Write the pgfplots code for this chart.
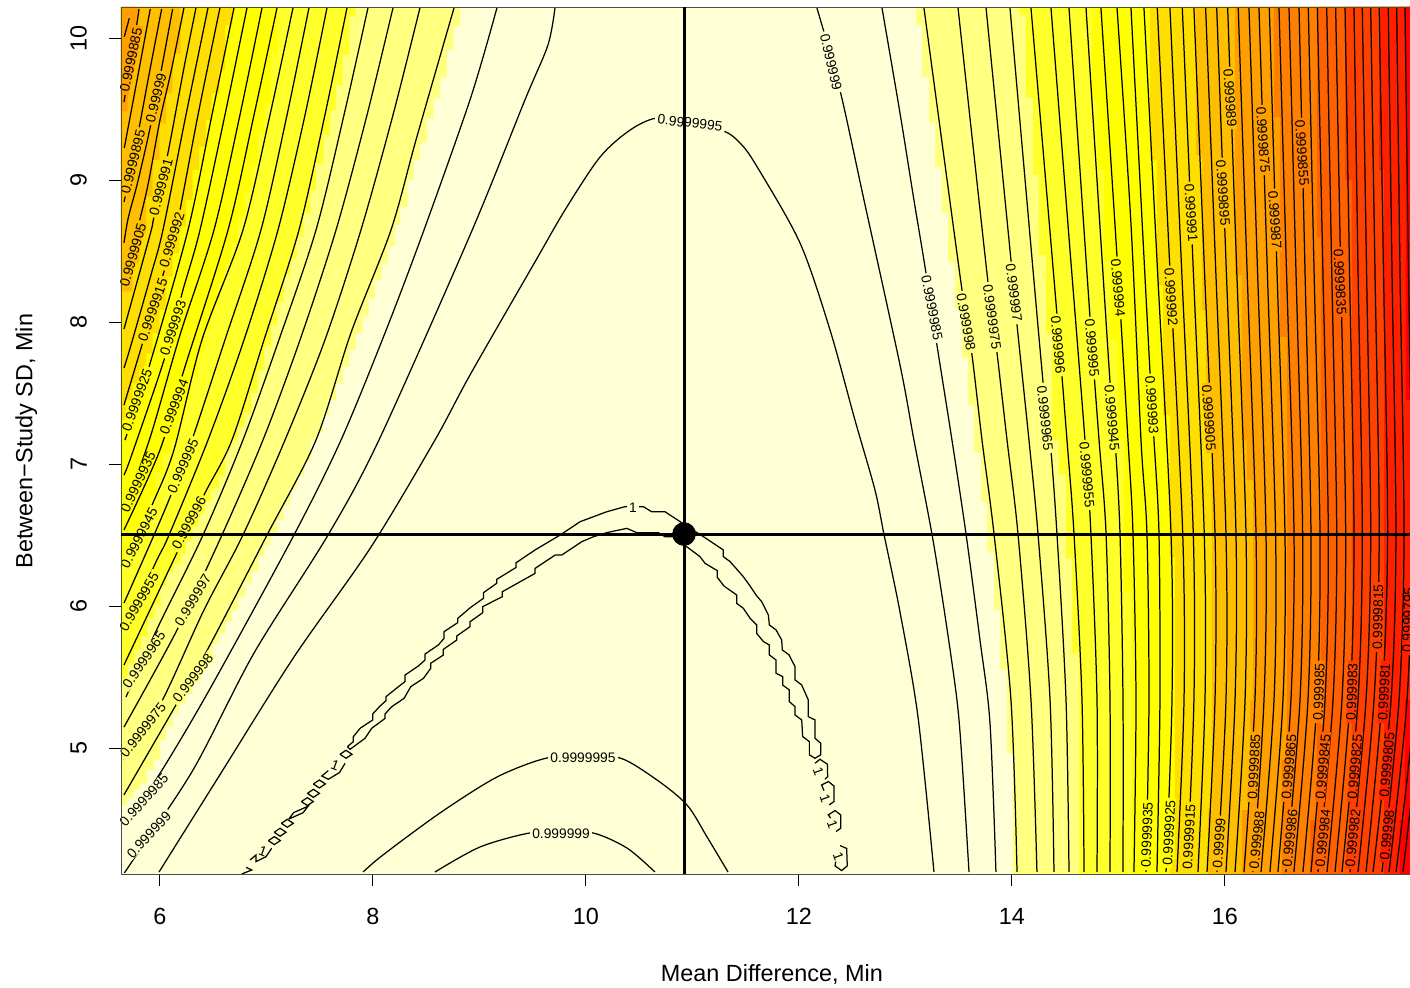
\documentclass[border=0pt]{standalone}
\usepackage{pgfplots}
\pgfplotsset{compat=1.18}
\usepackage{fontspec}
\setmainfont{Liberation Sans}
\definecolor{cA}{HTML}{FFFFD5}
\definecolor{cB}{HTML}{FFFF80}
\definecolor{cC}{HTML}{FFFF2A}
\definecolor{cD}{HTML}{FFFF00}
\definecolor{cE}{HTML}{FFDF00}
\definecolor{cF}{HTML}{FFBF00}
\definecolor{cG}{HTML}{FF9F00}
\definecolor{cH}{HTML}{FF8000}
\definecolor{cI}{HTML}{FF6000}
\definecolor{cJ}{HTML}{FF4000}
\definecolor{cK}{HTML}{FF2000}
\definecolor{cL}{HTML}{FF0000}
\pgfplotsset{
  cl/.style={black,line width=.62pt,smooth,tension=.5},
  st/.style={black,line width=.62pt,line join=miter},
  bd/.style={draw=none,const plot mark right,fill=#1},
  base/.style={scale only axis,width=644.5pt,height=433.5pt,
    xmin=5.634,xmax=17.738,ymin=4.113,ymax=10.219},
}
\newcommand\lab[5]{\node[fill=#4,rotate=#3,inner xsep=1.3pt,inner ysep=0pt,text=black,font=\fontsize{6.9}{7}\selectfont] at (axis cs:#1,#2) {#5};}
\newcommand\one[3]{\node[rotate=#3,inner sep=0pt,text=black,font=\fontsize{6.9}{7}\selectfont] at (axis cs:#1,#2) {1};}
\begin{document}
\begin{tikzpicture}
\useasboundingbox (-60.5pt,-57pt) rectangle (644.5pt,437pt);
\begin{axis}[base,
  axis on top,
  axis background/.style={fill=cA},
  axis line style={black!70,line width=.4pt},
  tick style={black,line width=.5pt},
  tick align=outside, major tick length=6pt,
  xtick pos=bottom, ytick pos=left,
  xtick={6,8,10,12,14,16}, ytick={5,6,7,8,9,10},
  /pgf/number format/assume math mode=true,
  tick label style={font=\fontsize{11.7}{14}\selectfont},
  yticklabel style={rotate=90,anchor=south,yshift=7.5pt},
  xticklabel style={yshift=-7.5pt},
  xlabel={Mean Difference, Min},
  ylabel={Between−Study SD, Min},
  label style={font=\fontsize{11.7}{14}\selectfont},
  xlabel style={at={(axis description cs:0.505,-0.116)},anchor=center},
  ylabel style={at={(axis description cs:-0.0735,0.4994)},anchor=center},
]
% right side colour bands
\addplot[bd=cB] coordinates {(13.099,10.219)(13.156,10.092)(13.221,9.726)(13.278,9.402)(13.343,9.092)(13.400,8.768)(13.466,8.416)(13.531,8.099)(13.588,7.747)(13.644,7.416)(13.710,7.078)(13.766,6.733)(13.832,6.381)(13.888,5.972)(13.954,5.550)(14.010,4.965)(17.738,4.113)(17.738,10.219)} -- cycle;
\addplot[bd=cC] coordinates {(14.076,10.219)(14.132,10.162)(14.198,9.578)(14.254,9.036)(14.320,8.472)(14.376,7.923)(14.442,7.169)(14.508,6.923)(14.564,6.338)(14.630,5.669)(17.738,4.113)(17.738,10.219)} -- cycle;
\addplot[bd=cD] coordinates {(14.752,10.219)(14.808,9.564)(14.865,9.071)(14.930,8.423)(14.996,7.874)(15.052,7.169)(15.127,6.099)(17.738,4.113)(17.738,10.219)} -- cycle;
\addplot[bd=cE] coordinates {(15.297,10.219)(15.362,9.141)(15.419,8.261)(15.484,7.345)(15.531,6.345)(15.484,4.211)(17.738,4.113)(17.738,10.219)} -- cycle;
\addplot[bd=cF] coordinates {(15.728,10.219)(15.785,9.176)(15.822,8.085)(15.878,7.099)(15.841,4.564)(17.738,4.113)(17.738,10.219)} -- cycle;
\addplot[bd=cG] coordinates {(16.095,10.219)(16.160,8.331)(16.207,7.169)(16.264,6.888)(16.236,5.338)(16.160,4.564)(17.738,4.113)(17.738,10.219)} -- cycle;
\addplot[bd=cH] coordinates {(16.461,10.219)(16.517,9.444)(16.583,7.895)(16.536,4.916)(17.738,4.113)(17.738,10.219)} -- cycle;
\addplot[bd=cI] coordinates {(16.865,10.219)(16.902,8.599)(16.865,5.338)(16.799,4.493)(17.738,4.113)(17.738,10.219)} -- cycle;
\addplot[bd=cJ] coordinates {(17.128,10.219)(17.193,9.000)(17.165,4.916)(17.738,4.113)(17.738,10.219)} -- cycle;
\addplot[bd=cK] coordinates {(17.447,10.219)(17.494,9.071)(17.738,4.113)(17.738,10.219)} -- cycle;
\addplot[bd=cL] coordinates {(17.700,10.219)(17.738,7.451)(17.691,5.338)(17.644,4.493)(17.738,4.113)(17.738,10.219)} -- cycle;
% left side colour bands
\addplot[bd=cB] coordinates {(8.820,10.219)(8.758,10.080)(8.695,9.916)(8.633,9.723)(8.570,9.576)(8.507,9.435)(8.445,9.263)(8.382,9.141)(8.326,9.001)(8.257,8.813)(8.207,8.684)(8.138,8.536)(8.082,8.414)(8.019,8.297)(7.960,8.167)(7.903,8.038)(7.841,7.921)(7.778,7.804)(7.715,7.686)(7.653,7.569)(7.590,7.452)(7.528,7.346)(7.474,7.217)(7.418,7.170)(7.356,7.016)(7.287,6.923)(7.224,6.829)(7.161,6.711)(7.099,6.606)(7.036,6.512)(6.980,6.430)(6.924,6.348)(6.861,6.242)(6.798,6.160)(6.736,6.066)(6.676,5.972)(6.614,5.890)(6.557,5.808)(6.495,5.737)(6.432,5.655)(6.370,5.550)(6.307,5.456)(6.244,5.385)(6.182,5.315)(6.119,5.244)(6.057,5.151)(6.003,5.057)(5.941,4.916)(5.878,4.846)(5.816,4.752)(5.753,4.705)(5.690,4.646)(5.634,4.599)(5.634,10.219)} -- cycle;
\addplot[bd=cC] coordinates {(7.841,10.219)(7.778,10.151)(7.715,9.881)(7.653,9.670)(7.600,9.493)(7.537,9.317)(7.465,9.118)(7.409,8.930)(7.346,8.766)(7.284,8.602)(7.224,8.449)(7.161,8.332)(7.096,8.144)(7.043,7.980)(6.980,7.827)(6.917,7.663)(6.855,7.499)(6.792,7.358)(6.730,7.264)(6.667,7.170)(6.611,7.099)(6.551,6.911)(6.479,6.829)(6.417,6.735)(6.360,6.653)(6.307,6.559)(6.244,6.465)(6.191,6.371)(6.129,6.301)(6.063,6.242)(6.003,6.136)(5.947,6.007)(5.884,5.913)(5.822,5.784)(5.759,5.690)(5.697,5.597)(5.634,5.486)(5.634,10.219)} -- cycle;
\addplot[bd=cD] coordinates {(7.105,10.219)(7.043,9.893)(6.980,9.540)(6.917,9.329)(6.855,9.094)(6.792,8.930)(6.730,8.742)(6.667,8.566)(6.604,8.414)(6.542,8.273)(6.479,8.109)(6.417,7.945)(6.354,7.780)(6.291,7.616)(6.229,7.452)(6.166,7.311)(6.104,7.170)(6.025,7.075)(5.963,6.934)(5.900,6.770)(5.838,6.629)(5.775,6.512)(5.712,6.395)(5.650,6.277)(5.634,6.150)(5.634,10.219)} -- cycle;
\addplot[bd=cE] coordinates {(6.683,10.219)(6.611,10.092)(6.557,9.775)(6.485,9.611)(6.432,9.423)(6.370,9.235)(6.307,9.071)(6.244,8.860)(6.182,8.672)(6.119,8.484)(6.057,8.320)(5.994,8.085)(5.931,7.921)(5.869,7.780)(5.806,7.663)(5.744,7.569)(5.681,7.452)(5.634,7.311)(5.634,10.219)} -- cycle;
\addplot[bd=cF] coordinates {(6.191,10.219)(6.119,9.893)(6.057,9.611)(5.994,9.400)(5.931,9.141)(5.869,8.883)(5.806,8.625)(5.744,8.414)(5.697,8.214)(5.634,8.214)(5.634,10.219)} -- cycle;
\addplot[bd=cG] coordinates {(5.794,10.219)(5.697,9.881)(5.634,9.486)(5.634,10.219)} -- cycle;
% contours, left side
\addplot[cl] coordinates {(5.803,10.205)(5.784,10.106)(5.662,9.550)};
\addplot[cl] coordinates {(5.712,10.139)(5.665,10.010)};
\addplot[cl] coordinates {(5.909,10.205)(5.806,9.789)(5.665,9.226)};
\addplot[cl] coordinates {(6.016,10.205)(5.909,9.789)(5.806,9.374)(5.744,9.127)(5.662,8.845)};
\addplot[cl] coordinates {(6.119,10.205)(6.016,9.789)(5.909,9.374)(5.791,8.986)(5.702,8.733)(5.662,8.557)};
\addplot[cl] coordinates {(6.225,10.212)(6.103,9.761)(6.000,9.423)(5.887,8.965)(5.775,8.613)(5.662,8.275)};
\addplot[cl] coordinates {(6.338,10.212)(6.225,9.789)(6.075,9.191)(5.944,8.740)(5.906,8.613)(5.662,7.951)};
\addplot[cl] coordinates {(6.451,10.212)(6.244,9.458)(6.028,8.648)(5.915,8.331)(5.728,7.838)(5.662,7.676)};
\addplot[cl] coordinates {(6.563,10.212)(6.357,9.458)(6.150,8.648)(6.028,8.331)(5.662,7.416)};
\addplot[cl] coordinates {(6.695,10.212)(6.488,9.458)(6.263,8.648)(5.897,7.684)(5.671,7.169)};
\addplot[cl] coordinates {(6.817,10.212)(6.610,9.458)(6.376,8.648)(6.216,8.226)(6.038,7.733)(5.728,7.050)(5.662,6.923)};
\addplot[cl] coordinates {(6.958,10.212)(6.751,9.458)(6.507,8.648)(6.188,7.909)(5.906,7.183)(5.662,6.676)};
\addplot[cl] coordinates {(7.099,10.212)(6.883,9.458)(6.639,8.648)(6.225,7.662)(6.000,7.099)(5.662,6.536)};
\addplot[cl] coordinates {(7.249,10.212)(7.033,9.458)(6.779,8.648)(6.394,7.874)(6.131,7.099)(5.934,6.726)(5.662,6.275)};
\addplot[cl] coordinates {(7.399,10.212)(7.193,9.458)(6.948,8.648)(6.610,7.874)(6.300,7.169)(6.103,6.782)(5.944,6.500)(5.662,6.021)};
\addplot[cl] coordinates {(7.568,10.212)(7.362,9.458)(7.108,8.648)(6.789,7.874)(6.451,7.169)(6.085,6.500)(5.962,6.310)(5.662,5.817)};
\addplot[cl] coordinates {(7.756,10.212)(7.549,9.458)(7.305,8.648)(6.977,7.874)(6.676,7.169)(6.413,6.782)(6.150,6.360)(5.662,5.585)};
\addplot[cl] coordinates {(7.953,10.212)(7.728,9.458)(7.465,8.648)(7.117,7.874)(6.779,7.169)(6.404,6.500)(5.981,5.852)(5.681,5.360)};
\addplot[cl] coordinates {(8.188,10.212)(7.944,9.458)(7.653,8.648)(7.315,7.874)(6.967,7.169)(6.582,6.500)(6.160,5.831)(5.662,5.148)};
\addplot[cl] coordinates {(8.441,10.212)(8.188,9.458)(7.887,8.648)(7.549,7.874)(7.174,7.169)(6.779,6.500)(6.413,5.972)(6.009,5.317)(5.662,4.916)};
\addplot[cl] coordinates {(8.761,10.212)(8.404,9.282)(8.169,8.648)(7.793,7.923)(7.465,7.169)(7.005,6.500)(6.460,5.712)(6.150,5.303)(5.662,4.670)};
\addplot[cl] coordinates {(9.164,10.212)(8.920,9.585)(8.479,8.648)(8.113,7.923)(7.700,7.169)(7.258,6.500)(6.479,5.430)(6.038,4.867)(5.662,4.437)};
\addplot[cl] coordinates {(9.709,10.212)(9.643,9.951)(9.427,9.564)(8.920,8.627)(8.056,7.169)(7.578,6.500)(6.883,5.669)(6.310,4.845)(5.728,4.190)(5.671,4.127)};
% 0.9999995 upper arc
\addplot[cl] coordinates {(5.991,4.127)(6.573,4.824)(7.258,5.641)(7.981,6.415)(8.582,7.169)(8.911,7.627)(9.521,8.423)(9.803,8.789)(10.132,9.162)(10.414,9.352)(10.667,9.437)(10.977,9.402)(11.296,9.345)(11.447,9.261)(11.597,9.106)(12.010,8.557)(12.292,7.944)(12.526,7.310)(12.714,6.817)(12.798,6.507)(12.949,5.958)(13.118,5.219)(13.268,4.127)};
% contours, right side
\addplot[cl] coordinates {(12.169,10.212)(12.385,9.634)(12.611,8.859)(12.949,7.698)(13.080,7.169)(13.249,6.507)(13.371,5.937)(13.484,5.338)(13.531,4.916)(13.597,4.127)};
\addplot[cl] coordinates {(12.780,10.212)(12.949,9.472)(13.080,8.859)(13.184,8.388)(13.296,7.838)(13.437,7.169)(13.569,6.507)(13.700,5.761)(13.794,5.176)(13.850,4.127)};
\addplot[cl] coordinates {(13.174,10.212)(13.531,8.226)(13.625,7.768)(13.719,7.169)(13.832,6.507)(13.991,5.338)(14.048,4.127)};
\addplot[cl] coordinates {(13.494,10.212)(13.775,8.282)(13.860,7.782)(13.954,7.169)(14.057,6.507)(14.179,5.338)(14.235,4.127)};
\addplot[cl] coordinates {(13.757,10.212)(13.991,8.437)(14.048,7.979)(14.160,7.169)(14.245,6.507)(14.358,5.338)(14.395,4.127)};
\addplot[cl] coordinates {(13.982,10.212)(14.292,7.578)(14.358,7.169)(14.423,6.507)(14.508,5.338)(14.536,4.127)};
\addplot[cl] coordinates {(14.179,10.212)(14.414,8.134)(14.517,7.169)(14.583,6.507)(14.658,5.338)(14.677,4.127)};
\addplot[cl] coordinates {(14.367,10.212)(14.526,8.690)(14.686,7.169)(14.742,6.507)(14.799,5.338)(14.799,4.127)};
\addplot[cl] coordinates {(14.536,10.212)(14.733,8.036)(14.818,7.169)(14.884,6.507)(14.921,5.338)(14.921,4.127)};
\addplot[cl] coordinates {(14.696,10.212)(14.921,7.578)(14.968,7.169)(15.015,6.507)(15.043,5.338)(15.043,4.127)};
\addplot[cl] coordinates {(14.836,10.212)(14.987,8.458)(15.090,7.169)(15.137,6.507)(15.165,5.338)(15.146,4.127)};
\addplot[cl] coordinates {(14.987,10.212)(15.118,8.690)(15.212,7.169)(15.268,6.507)(15.287,5.338)(15.259,4.127)};
\addplot[cl] coordinates {(15.118,10.212)(15.297,7.641)(15.334,7.169)(15.381,6.507)(15.390,5.338)(15.362,4.127)};
\addplot[cl] coordinates {(15.240,10.212)(15.367,8.366)(15.494,6.507)(15.503,5.338)(15.447,4.127)};
\addplot[cl] coordinates {(15.365,10.212)(15.484,8.366)(15.604,6.507)(15.616,5.338)(15.550,4.127)};
\addplot[cl] coordinates {(15.484,10.212)(15.594,8.366)(15.703,6.507)(15.709,5.338)(15.644,4.127)};
\addplot[cl] coordinates {(15.600,10.212)(15.703,8.366)(15.806,6.507)(15.813,5.338)(15.747,4.127)};
\addplot[cl] coordinates {(15.709,10.212)(15.808,8.366)(15.907,6.507)(15.907,5.338)(15.832,4.127)};
\addplot[cl] coordinates {(15.819,10.212)(15.914,8.366)(16.010,6.507)(16.010,5.338)(15.926,4.127)};
\addplot[cl] coordinates {(15.923,10.212)(16.013,8.366)(16.104,6.507)(16.095,5.338)(16.010,4.127)};
\addplot[cl] coordinates {(16.026,10.212)(16.111,8.366)(16.198,6.507)(16.189,5.338)(16.095,4.127)};
\addplot[cl] coordinates {(16.125,10.212)(16.208,8.366)(16.292,6.507)(16.282,5.338)(16.179,4.127)};
\addplot[cl] coordinates {(16.226,10.212)(16.306,8.366)(16.386,6.507)(16.367,5.338)(16.264,4.127)};
\addplot[cl] coordinates {(16.320,10.212)(16.398,8.366)(16.476,6.507)(16.461,5.338)(16.339,4.127)};
\addplot[cl] coordinates {(16.417,10.212)(16.489,8.366)(16.564,6.507)(16.545,5.338)(16.423,4.127)};
\addplot[cl] coordinates {(16.508,10.212)(16.578,8.366)(16.649,6.507)(16.620,5.338)(16.498,4.127)};
\addplot[cl] coordinates {(16.602,10.212)(16.667,8.366)(16.730,6.507)(16.705,5.338)(16.573,4.127)};
\addplot[cl] coordinates {(16.696,10.212)(16.752,8.366)(16.808,6.507)(16.780,5.338)(16.648,4.127)};
\addplot[cl] coordinates {(16.783,10.212)(16.837,8.366)(16.893,6.507)(16.865,5.338)(16.733,4.127)};
\addplot[cl] coordinates {(16.868,10.212)(16.920,8.366)(16.971,6.507)(16.940,5.338)(16.808,4.127)};
\addplot[cl] coordinates {(16.956,10.212)(17.003,8.366)(17.050,6.507)(17.015,5.338)(16.874,4.127)};
\addplot[cl] coordinates {(17.040,10.212)(17.087,8.366)(17.134,6.507)(17.099,5.338)(16.959,4.127)};
\addplot[cl] coordinates {(17.128,10.212)(17.170,8.366)(17.212,6.507)(17.175,5.338)(17.034,4.127)};
\addplot[cl] coordinates {(17.212,10.212)(17.250,8.366)(17.290,6.507)(17.250,5.338)(17.099,4.127)};
\addplot[cl] coordinates {(17.290,10.212)(17.330,8.366)(17.369,6.507)(17.325,5.338)(17.175,4.127)};
\addplot[cl] coordinates {(17.369,10.212)(17.409,8.366)(17.449,6.507)(17.400,5.338)(17.250,4.127)};
\addplot[cl] coordinates {(17.449,10.212)(17.489,8.366)(17.528,6.507)(17.475,5.338)(17.325,4.127)};
\addplot[cl] coordinates {(17.534,10.212)(17.569,8.366)(17.606,6.507)(17.560,5.338)(17.391,4.127)};
\addplot[cl] coordinates {(17.613,10.212)(17.644,8.366)(17.682,6.507)(17.635,5.338)(17.475,4.127)};
\addplot[cl] coordinates {(17.691,10.212)(17.724,8.366)(17.757,6.507)(17.710,5.338)(17.541,4.127)};
\addplot[cl] coordinates {(17.766,10.212)(17.800,8.366)(17.831,6.507)(17.785,5.338)(17.607,4.127)};
\addplot[cl] coordinates {(17.860,5.338)(17.672,4.127)};
% lower arcs
\addplot[cl] coordinates {(7.907,4.127)(8.094,4.247)(8.630,4.543)(9.165,4.796)(9.634,4.930)(9.972,4.930)(10.320,4.930)(10.667,4.775)(10.949,4.599)(11.137,4.374)(11.334,4.127)};
\addplot[cl] coordinates {(8.583,4.127)(9.005,4.303)(9.475,4.402)(9.766,4.395)(10.066,4.402)(10.385,4.296)(10.648,4.127)};
% the ribbon around the maximum
\addplot[st] coordinates {(7.760,5.010)(7.816,5.045)(7.816,5.080)(7.879,5.139)(7.998,5.198)(7.998,5.240)(8.060,5.291)(8.123,5.334)(8.123,5.362)(8.239,5.432)(8.301,5.468)(8.301,5.514)(8.427,5.578)(8.489,5.620)(8.489,5.662)(8.614,5.726)(8.668,5.773)(8.668,5.820)(8.796,5.883)(8.796,5.913)(8.918,5.991)(9.037,6.054)(9.037,6.094)(9.162,6.160)(9.162,6.188)(9.344,6.272)(9.344,6.305)(9.522,6.395)(9.757,6.500)(9.945,6.594)(10.195,6.664)(10.367,6.700)(10.539,6.700)(10.618,6.664)(10.743,6.664)(10.931,6.571)(11.102,6.489)(11.290,6.395)(11.290,6.348)(11.353,6.313)(11.409,6.266)(11.472,6.212)(11.534,6.149)(11.597,6.078)(11.650,6.031)(11.713,5.937)(11.722,5.867)(11.785,5.832)(11.838,5.761)(11.844,5.691)(11.907,5.656)(11.963,5.574)(11.963,5.480)(12.026,5.444)(12.088,5.339)(12.088,5.221)(12.151,5.198)(12.151,5.069)(12.204,5.034)(12.204,4.952)(12.151,4.928)(12.098,4.952)(12.098,5.045)(12.035,5.081)(12.026,5.198)(11.963,5.233)(11.963,5.292)(11.910,5.327)(11.910,5.409)(11.847,5.444)(11.847,5.503)(11.785,5.527)(11.785,5.620)(11.722,5.656)(11.722,5.726)(11.666,5.750)(11.603,5.808)(11.603,5.867)(11.541,5.914)(11.478,5.984)(11.415,6.019)(11.415,6.078)(11.296,6.141)(11.234,6.202)(11.234,6.249)(11.118,6.301)(11.071,6.348)(10.821,6.488)(10.743,6.488)(10.680,6.517)(10.477,6.517)(10.383,6.547)(10.195,6.517)(10.070,6.488)(9.960,6.453)(9.772,6.359)(9.710,6.359)(9.522,6.265)(9.522,6.230)(9.215,6.101)(9.215,6.066)(9.031,5.996)(9.031,5.953)(8.912,5.890)(8.912,5.855)(8.787,5.789)(8.787,5.761)(8.661,5.695)(8.661,5.655)(8.542,5.597)(8.542,5.561)(8.474,5.491)(8.355,5.432)(8.292,5.350)(8.176,5.291)(8.114,5.240)(8.114,5.209)(7.988,5.139)(7.926,5.069)(7.785,4.991)(7.760,5.010)};
% small pieces of the ribbon lower left
\addplot[st] coordinates {(7.691,4.956)(7.747,4.984)(7.803,4.956)(7.747,4.928)(7.691,4.956)};
\addplot[st] coordinates {(7.441,4.747)(7.497,4.775)(7.553,4.747)(7.497,4.719)(7.441,4.747)};
\addplot[st] coordinates {(7.385,4.681)(7.441,4.709)(7.497,4.681)(7.441,4.653)(7.385,4.681)};
\addplot[st] coordinates {(7.328,4.623)(7.384,4.651)(7.440,4.623)(7.384,4.595)(7.328,4.623)};
\addplot[st] coordinates {(7.210,4.500)(7.255,4.545)(7.390,4.590)(7.345,4.545)(7.210,4.500)};
\addplot[st] coordinates {(7.140,4.470)(7.196,4.498)(7.252,4.470)(7.196,4.442)(7.140,4.470)};
\addplot[st] coordinates {(7.072,4.407)(7.128,4.435)(7.184,4.407)(7.128,4.379)(7.072,4.407)};
\addplot[st] coordinates {(7.018,4.348)(7.074,4.376)(7.130,4.348)(7.074,4.320)(7.018,4.348)};
\addplot[st] coordinates {(7.738,4.892)(7.685,4.827)(7.581,4.780)(7.519,4.803)(7.581,4.841)};
\addplot[st] coordinates {(7.049,4.294)(6.996,4.235)(6.902,4.200)(6.902,4.247)(6.846,4.212)};
\addplot[st] coordinates {(6.808,4.160)(6.862,4.141)(6.768,4.113)};
% small pieces lower right
\addplot[st] coordinates {(12.151,4.893)(12.198,4.921)(12.267,4.886)(12.270,4.799)(12.245,4.780)};
\addplot[st] coordinates {(12.235,4.700)(12.213,4.740)(12.276,4.764)(12.329,4.733)(12.329,4.623)(12.285,4.600)};
\addplot[st] coordinates {(12.298,4.506)(12.276,4.529)(12.339,4.560)(12.392,4.529)(12.392,4.435)(12.348,4.412)};
\addplot[st] coordinates {(12.386,4.313)(12.448,4.293)(12.454,4.170)(12.401,4.137)(12.339,4.170)(12.345,4.200)};
% contour labels, right
\lab{12.301}{9.831}{-77}{cA}{0.999999}
\lab{10.977}{9.402}{-7}{cA}{0.9999995}
\lab{13.250}{8.099}{-79}{cA}{0.9999985}
\lab{13.569}{8.000}{-80}{cB}{0.999998}
\lab{13.813}{8.036}{-82}{cB}{0.9999975}
\lab{14.019}{8.205}{-83}{cB}{0.999997}
\lab{14.311}{7.324}{-84}{cB}{0.9999965}
\lab{14.433}{7.838}{-85}{cC}{0.999996}
\lab{14.705}{6.923}{-85}{cC}{0.9999955}
\lab{14.752}{7.817}{-85}{cC}{0.999995}
\lab{14.940}{7.324}{-85}{cC}{0.9999945}
\lab{14.996}{8.240}{-85}{cD}{0.999994}
\lab{15.315}{7.416}{-86}{cD}{0.999993}
\lab{15.494}{8.176}{-86}{cE}{0.999992}
\lab{15.682}{8.768}{-86}{cE}{0.999991}
\lab{15.850}{7.324}{-86}{cF}{0.9999905}
\lab{15.982}{8.909}{-86}{cF}{0.9999895}
\lab{16.048}{9.578}{-86}{cF}{0.999989}
\lab{16.358}{9.282}{-86}{cG}{0.9999875}
\lab{16.470}{8.719}{-86}{cG}{0.999987}
\lab{16.724}{9.191}{-86}{cH}{0.9999855}
\lab{17.081}{8.282}{-87}{cI}{0.9999835}
\lab{15.268}{4.388}{88}{cD}{0.9999935}
\lab{15.475}{4.402}{87}{cD}{0.9999925}
\lab{15.663}{4.374}{87}{cE}{0.9999915}
\lab{15.945}{4.331}{86}{cF}{0.99999}
\lab{16.273}{4.867}{87}{cG}{0.9999885}
\lab{16.301}{4.353}{84}{cG}{0.999988}
\lab{16.602}{4.867}{85}{cH}{0.9999865}
\lab{16.611}{4.366}{84}{cH}{0.999986}
\lab{16.883}{5.395}{88}{cH}{0.999985}
\lab{16.921}{4.867}{85}{cI}{0.9999845}
\lab{16.921}{4.366}{84}{cI}{0.999984}
\lab{17.193}{5.395}{88}{cJ}{0.999983}
\lab{17.221}{4.867}{85}{cJ}{0.9999825}
\lab{17.202}{4.366}{84}{cJ}{0.999982}
\lab{17.437}{5.923}{89}{cJ}{0.9999815}
\lab{17.494}{5.395}{87}{cK}{0.999981}
\lab{17.522}{4.881}{85}{cK}{0.9999805}
\lab{17.522}{4.388}{84}{cK}{0.99998}
\lab{17.719}{5.902}{88}{cK}{0.9999795}
% contour labels, left
\lab{5.728}{9.845}{78}{cG}{0.9999885}
\lab{5.963}{9.578}{76}{cF}{0.99999}
\lab{5.747}{9.127}{76}{cF}{0.9999895}
\lab{6.010}{8.951}{75}{cE}{0.999991}
\lab{5.747}{8.472}{74}{cF}{0.9999905}
\lab{6.113}{8.578}{73}{cE}{0.999992}
\lab{5.932}{8.085}{71}{cE}{0.9999915}
\lab{6.122}{7.958}{72}{cD}{0.999993}
\lab{5.784}{7.451}{70}{cD}{0.9999925}
\lab{6.132}{7.402}{69}{cD}{0.999994}
\lab{5.794}{6.874}{65}{cD}{0.9999935}
\lab{6.216}{6.986}{66}{cC}{0.999995}
\lab{5.803}{6.479}{63}{cC}{0.9999945}
\lab{6.273}{6.585}{62}{cC}{0.999996}
\lab{5.803}{6.029}{60}{cC}{0.9999955}
\lab{6.310}{6.043}{59}{cB}{0.999997}
\lab{5.850}{5.620}{56}{cB}{0.9999965}
\lab{6.310}{5.493}{53}{cB}{0.999998}
\lab{5.841}{5.127}{52}{cB}{0.9999975}
\lab{5.850}{4.634}{48}{cA}{0.9999985}
\lab{5.897}{4.388}{47}{cA}{0.999999}
\lab{9.972}{4.930}{0}{cA}{0.9999995}
\lab{9.766}{4.395}{0}{cA}{0.999999}
\lab{10.442}{6.690}{0}{cA}{1}
\one{7.644}{4.881}{-20}
\one{6.965}{4.271}{-20}
\one{12.182}{4.834}{-70}
\one{12.245}{4.646}{-70}
\one{12.314}{4.459}{-70}
\one{12.370}{4.236}{-70}
\end{axis}
\begin{axis}[base,hide axis]
\addplot[black,line width=1.5pt] coordinates {(5.634,6.507)(17.738,6.507)};
\addplot[black,line width=1.5pt] coordinates {(10.921,4.113)(10.921,10.219)};
\addplot[only marks,mark=*,mark size=5.7pt,mark options={fill=black,draw=black}] coordinates {(10.921,6.507)};
\end{axis}
\end{tikzpicture}
\end{document}
